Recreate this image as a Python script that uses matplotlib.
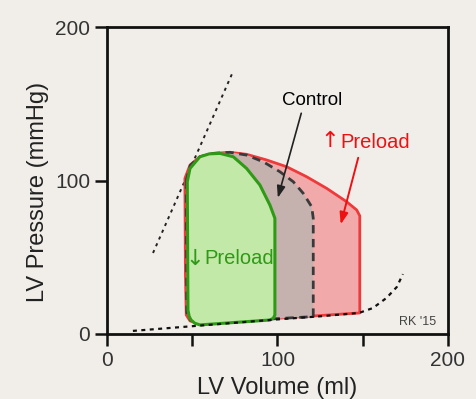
import matplotlib
matplotlib.use("Agg")
import matplotlib.pyplot as plt

# PV loop data (volume in ml, pressure in mmHg)
# increased preload loop
up_vol = [45.7, 46.0, 46.5, 48.7, 52.8, 100.0, 148.3, 148.3, 146.5, 140.6, 128.9, 117.1, 105.4,
          93.7, 81.9, 72.1, 62.3, 54.5, 48.7, 45.7]
up_prs = [101.4, 40.0, 12.4, 8.5, 7.2, 10.2, 13.7, 77.0, 80.8, 86.2, 94.9, 102.5, 109.0,
          113.4, 117.1, 118.4, 117.7, 115.5, 110.1, 101.4]

# control loop
ctl_vol = [46.5, 46.8, 49.0, 53.5, 100.0, 121.0, 121.0, 120.1, 115.1, 109.3, 101.5, 91.7, 81.9,
           72.1, 62.3, 54.5, 48.9, 46.5]
ctl_prs = [100.0, 14.0, 9.0, 7.0, 10.0, 11.3, 75.4, 82.9, 91.7, 99.2, 105.7, 112.2, 116.6,
           118.4, 117.7, 115.5, 110.0, 100.0]

# decreased preload loop
dn_vol = [47.1, 47.5, 48.2, 49.3, 51.5, 54.5, 95.6, 97.6, 98.5, 98.5, 95.6, 89.7, 81.9, 74.1,
          66.3, 60.0, 54.5, 48.7, 47.1]
dn_prs = [99.2, 15.6, 11.5, 9.1, 7.0, 5.9, 9.1, 10.3, 12.4, 75.4, 84.0, 97.1, 107.9, 115.5,
          117.7, 117.4, 115.5, 107.9, 99.2]

# ESPVR and EDPVR
es_vol = [27.0, 73.3]
es_prs = [52.8, 169.4]
ed_vol = [15.2, 55.0, 100.0, 125.0, 147.8, 156.0, 164.0, 170.0, 173.6]
ed_prs = [2.0, 5.5, 9.5, 11.5, 13.7, 16.9, 23.5, 30.6, 39.0]

bg = "#f1eeea"
plt.rcParams["font.family"] = ["Liberation Sans", "DejaVu Sans"]

fig = plt.figure(figsize=(4.77, 3.99), dpi=100, facecolor=bg)
ax = fig.add_axes([0.2243, 0.163, 0.7147, 0.769], facecolor=bg)

ax.fill(up_vol, up_prs, facecolor="#f2a9aa", edgecolor="#ee3a3a", lw=2.0, joinstyle="round", zorder=2)
ax.fill(ctl_vol, ctl_prs, facecolor="#c5b2af", edgecolor="none", zorder=3)
ax.plot(ctl_vol, ctl_prs, color="#3a3a3a", lw=2.0, dashes=(3, 2), zorder=4)
ax.fill(dn_vol, dn_prs, facecolor="#c2e9a8", edgecolor="#2e9a16", lw=2.2, joinstyle="round", zorder=5)

ax.plot(es_vol, es_prs, color="#222222", lw=1.4, dashes=(1.6, 2.2), zorder=1)
ax.plot(ed_vol, ed_prs, color="#111111", lw=1.6, dashes=(1.8, 2.0), zorder=6)

ax.annotate("", xy=(99.8, 87.0), xytext=(114.4, 145.6),
            arrowprops=dict(arrowstyle="-|>,head_length=0.7,head_width=0.25", color="#222222", lw=1.2),
            zorder=7)
ax.annotate("", xy=(136.7, 69.7), xytext=(147.8, 116.6),
            arrowprops=dict(arrowstyle="-|>,head_length=0.7,head_width=0.25", color="#ee1111", lw=1.4),
            zorder=7)

ax.text(120.2, 152.4, "Control", ha="center", va="center", fontsize=13.5, color="black", zorder=8)
ax.text(136.7, 125.0, "Preload", ha="left", va="center", fontsize=14.5, color="#ee1111", zorder=8)
ax.text(130.8, 125.5, "\u2191", ha="center", va="center", fontsize=16, color="#ee1111",
        family="DejaVu Sans", zorder=8)
ax.text(56.9, 49.5, "Preload", ha="left", va="center", fontsize=14.5, color="#2e9a16", zorder=8)
ax.text(51.2, 49.0, "\u2193", ha="center", va="center", fontsize=16, color="#2e9a16",
        family="DejaVu Sans", zorder=8)
ax.text(182.0, 8.0, "RK '15", ha="center", va="center", fontsize=9, color="#444444", zorder=8)

ax.set_xlim(0, 200)
ax.set_ylim(0, 200)
ax.set_xticks([0, 50, 100, 150, 200])
ax.set_xticklabels(["0", "", "100", "", "200"])
ax.set_yticks([0, 100, 200])
ax.tick_params(direction="out", length=8.5, width=1.8, labelsize=15, labelcolor="#333333",
               color="#111111")
for s in ax.spines.values():
    s.set_linewidth(2.0)
    s.set_color("#111111")

ax.set_xlabel("LV Volume (ml)", fontsize=17, color="#222222", labelpad=5)
ax.set_ylabel("LV Pressure (mmHg)", fontsize=17, color="#222222")
ax.yaxis.set_label_coords(-0.17, 0.4625)

fig.savefig("out.png", dpi=100, facecolor=bg)
